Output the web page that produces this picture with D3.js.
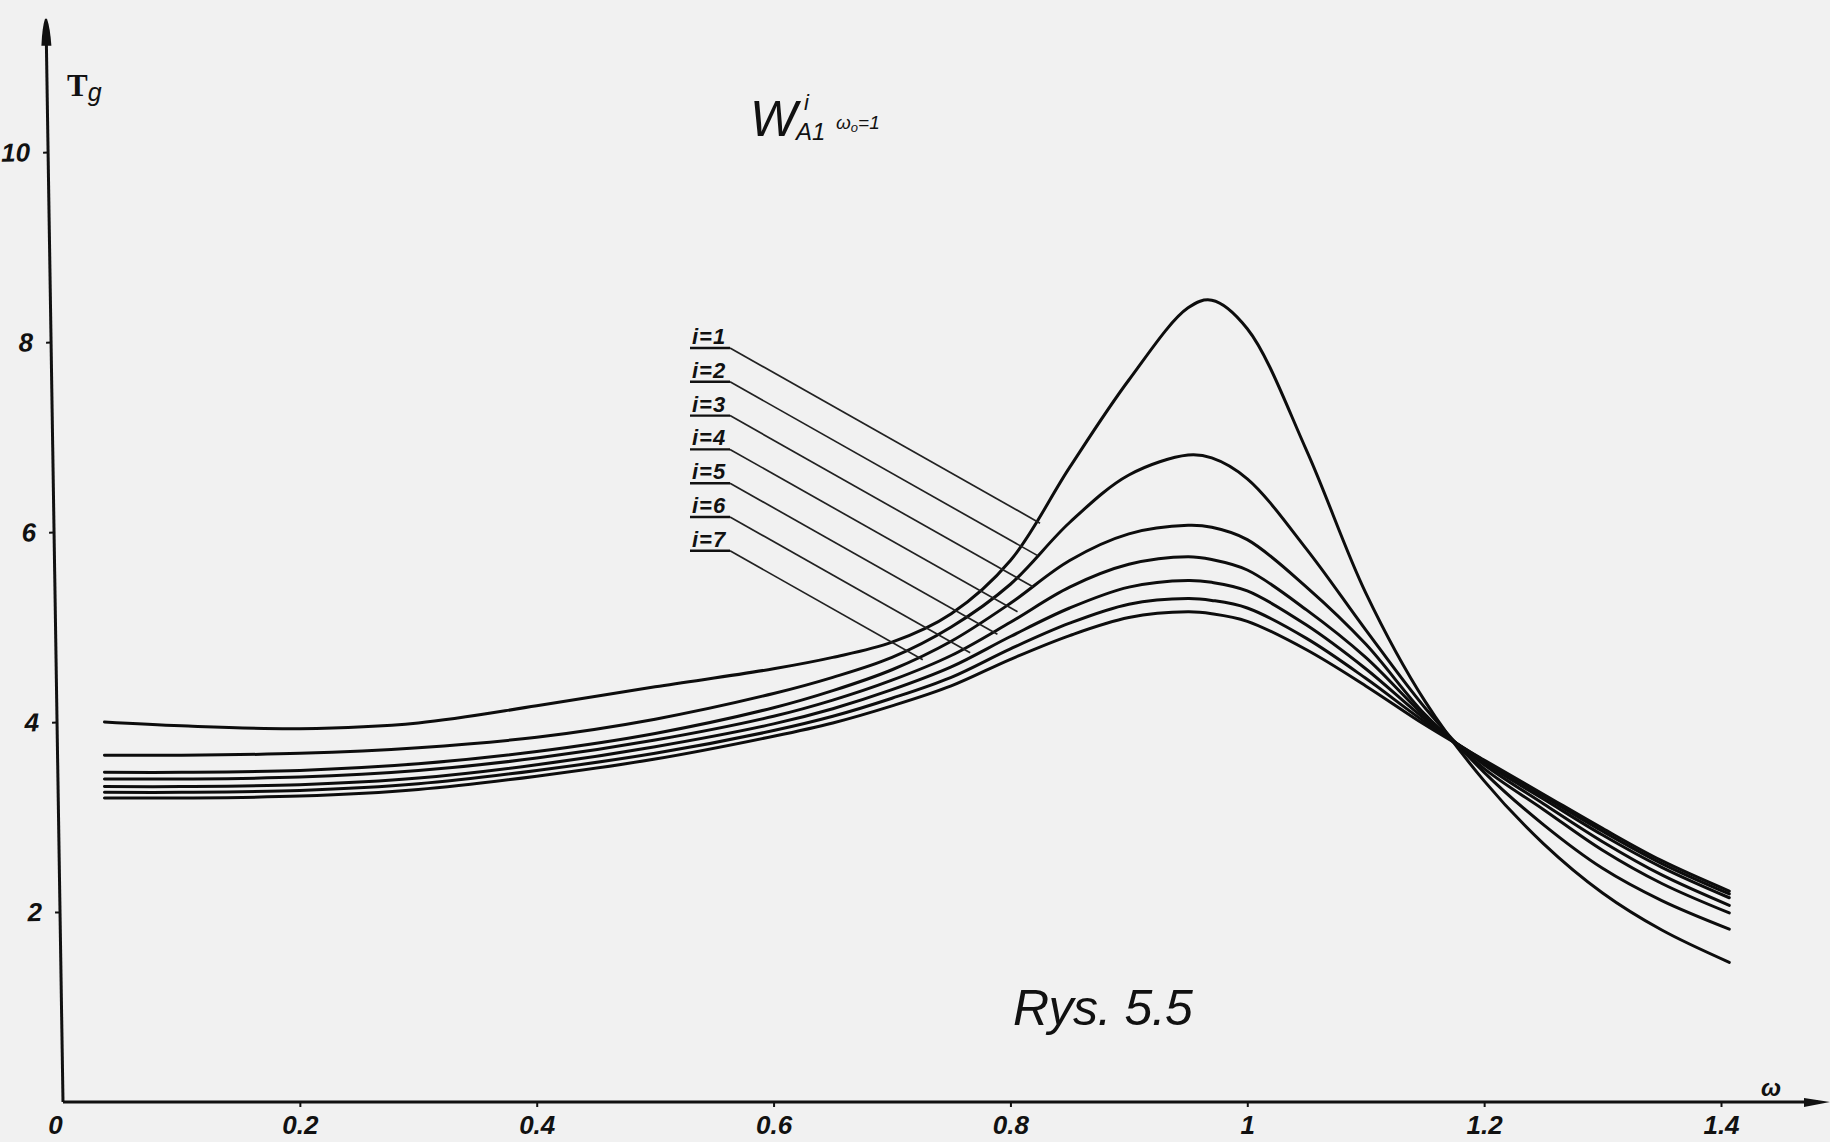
<!DOCTYPE html>
<html lang="pl">
<head>
<meta charset="UTF-8">
<title>Rys. 5.5</title>
<script src="https://d3js.org/d3.v7.min.js"></script>
<style>
  body { margin: 0; background: #f1f1f1; }
  svg { display: block; }
  text { fill: #111; font-family: "Liberation Sans", Arial, sans-serif; font-style: italic; }
</style>
</head>
<body>
<script>

const omega = [0.035, 0.1, 0.2, 0.3, 0.4, 0.5, 0.6, 0.65, 0.7, 0.75, 0.8, 0.85, 0.9, 0.95, 0.97, 1.0, 1.05, 1.1, 1.15, 1.2, 1.25, 1.3, 1.35, 1.407];

const curve1 = [4.00, 3.96, 3.93, 3.99, 4.17, 4.37, 4.56, 4.68, 4.84, 5.14, 5.70, 6.68, 7.60, 8.36, 8.44, 8.14, 6.86, 5.36, 4.22, 3.38, 2.72, 2.20, 1.81, 1.47];
const curve2 = [3.65, 3.65, 3.67, 3.73, 3.84, 4.03, 4.30, 4.47, 4.68, 5.00, 5.45, 6.10, 6.60, 6.81, 6.78, 6.56, 5.82, 4.97, 4.15, 3.47, 2.92, 2.46, 2.12, 1.82];
const curve3 = [3.47, 3.47, 3.49, 3.56, 3.69, 3.88, 4.15, 4.33, 4.55, 4.85, 5.25, 5.70, 5.98, 6.07, 6.05, 5.92, 5.42, 4.82, 4.08, 3.51, 3.08, 2.65, 2.30, 1.99];
const curve4 = [3.40, 3.40, 3.42, 3.49, 3.62, 3.81, 4.06, 4.23, 4.44, 4.70, 5.05, 5.42, 5.66, 5.74, 5.71, 5.60, 5.18, 4.68, 4.06, 3.55, 3.14, 2.74, 2.39, 2.07];
const curve5 = [3.32, 3.32, 3.34, 3.41, 3.55, 3.74, 3.98, 4.14, 4.34, 4.58, 4.90, 5.20, 5.42, 5.49, 5.47, 5.38, 5.02, 4.56, 4.03, 3.57, 3.19, 2.81, 2.47, 2.15];
const curve6 = [3.26, 3.26, 3.28, 3.35, 3.49, 3.67, 3.91, 4.06, 4.25, 4.47, 4.77, 5.04, 5.24, 5.30, 5.28, 5.20, 4.88, 4.46, 4.00, 3.59, 3.22, 2.85, 2.51, 2.19];
const curve7 = [3.20, 3.20, 3.22, 3.29, 3.43, 3.61, 3.85, 3.99, 4.17, 4.38, 4.66, 4.91, 5.10, 5.16, 5.14, 5.06, 4.76, 4.38, 3.97, 3.60, 3.24, 2.88, 2.54, 2.22];

const series = [curve1, curve2, curve3, curve4, curve5, curve6, curve7];
const seriesNames = ["i=1", "i=2", "i=3", "i=4", "i=5", "i=6", "i=7"];
// omega where each label's leader line stops
const leaderEndOmega = [0.825, 0.823, 0.819, 0.806, 0.789, 0.766, 0.726];

const xTicks = [0, 0.2, 0.4, 0.6, 0.8, 1, 1.2, 1.4];
const yTicks = [2, 4, 6, 8, 10];

const w = 1830;
const h = 1142;
const tickFont = "'Liberation Sans Narrow', 'Liberation Sans', Arial, sans-serif";

const xScale = d3.scaleLinear()
                 .domain([0, 1.4])
                 .range([63, 1721]);

const yScale = d3.scaleLinear()
                 .domain([0, 10])
                 .range([1102, 152]);

const svg = d3.select("body")
              .append("svg")
              .attr("width", w)
              .attr("height", h);

svg.append("rect")
   .attr("width", w)
   .attr("height", h)
   .attr("fill", "#f1f1f1");

// x axis
const xAxis = d3.axisBottom(xScale)
                .tickValues(xTicks)
                .tickSize(5)
                .tickPadding(9)
                .tickFormat(d => String(d));

const gx = svg.append("g")
              .attr("transform", "translate(0," + yScale(0) + ")")
              .call(xAxis);
gx.select(".domain").remove();
gx.selectAll(".tick line").attr("stroke", "#111").attr("stroke-width", 2);
gx.selectAll(".tick text")
  .attr("font-size", 26)
  .attr("font-family", tickFont)
  .attr("font-weight", "bold")
  .style("font-style", "italic")
  .attr("fill", "#111");
gx.selectAll(".tick").filter(d => d === 0).select("text").attr("dx", -8);
gx.selectAll(".tick").filter(d => d === 0).select("line").remove();

gx.append("line")
  .attr("x1", xScale(0))
  .attr("x2", 1818)
  .attr("stroke", "#111")
  .attr("stroke-width", 3);
gx.append("path")
  .attr("d", "M1804,-4 L1830,0 L1804,5 Z")
  .attr("fill", "#111");
gx.append("text")
  .attr("x", 1771)
  .attr("y", -6)
  .attr("font-size", 24)
  .attr("font-weight", "bold")
  .text("ω");

// y axis, leaning slightly like the scanned original
const yAxis = d3.axisLeft(yScale)
                .tickValues(yTicks)
                .tickSize(5)
                .tickPadding(13);

const gy = svg.append("g")
              .attr("transform", "rotate(-0.9," + xScale(0) + "," + yScale(0) + ") translate(" + xScale(0) + ",0)")
              .call(yAxis);
gy.select(".domain").remove();
gy.selectAll(".tick line").attr("stroke", "#111").attr("stroke-width", 2);
gy.selectAll(".tick text")
  .attr("font-size", 26)
  .attr("font-family", tickFont)
  .attr("font-weight", "bold")
  .style("font-style", "italic")
  .attr("fill", "#111");

gy.append("line")
  .attr("y1", yScale(0))
  .attr("y2", yScale(11.2))
  .attr("stroke", "#111")
  .attr("stroke-width", 3);
gy.append("path")
  .attr("d", "M-5," + yScale(11.12) + " Q-4," + (yScale(11.12) - 18) + " -1," + (yScale(11.12) - 27) +
             " L1," + (yScale(11.12) - 27) + " Q4," + (yScale(11.12) - 18) + " 5," + yScale(11.12) + " Z")
  .attr("fill", "#111");

// curves
const line = d3.line()
               .x(d => xScale(d[0]))
               .y(d => yScale(d[1]))
               .curve(d3.curveCatmullRom.alpha(0.5));

svg.selectAll("path.curve")
   .data(series)
   .enter()
   .append("path")
   .attr("class", "curve")
   .attr("d", d => line(d.map((v, k) => [omega[k], v])))
   .attr("fill", "none")
   .attr("stroke", "#0d0d0d")
   .attr("stroke-width", 3)
   .attr("stroke-linejoin", "round")
   .attr("stroke-linecap", "round");

// labels i=1..7 with parallel leader lines
const labelX = 690;
const labelUnderlineEnd = 730;
const labelY0 = 348;
const labelStep = 33.8;
const leaderSlope = 0.565;

seriesNames.forEach((name, i) => {
  const yL = labelY0 + i * labelStep;
  const xEnd = xScale(leaderEndOmega[i]);
  svg.append("text")
     .attr("x", labelX + 2)
     .attr("y", yL - 4)
     .attr("font-size", 22)
     .attr("font-family", tickFont)
     .attr("font-weight", "bold")
     .attr("letter-spacing", 1)
     .text(name);
  svg.append("line")
     .attr("x1", labelX)
     .attr("x2", labelUnderlineEnd)
     .attr("y1", yL)
     .attr("y2", yL)
     .attr("stroke", "#111")
     .attr("stroke-width", 2.4);
  svg.append("line")
     .attr("x1", labelUnderlineEnd)
     .attr("y1", yL)
     .attr("x2", xEnd)
     .attr("y2", yL + leaderSlope * (xEnd - labelUnderlineEnd))
     .attr("stroke", "#222")
     .attr("stroke-width", 1.7);
});

// Tg label
const tg = svg.append("text")
              .attr("x", 67)
              .attr("y", 96);
tg.append("tspan")
  .attr("font-family", "Liberation Serif, serif")
  .style("font-style", "normal")
  .attr("font-weight", "bold")
  .attr("font-size", 31)
  .text("T");
tg.append("tspan")
  .attr("font-size", 25)
  .attr("dy", 5)
  .text("g");

// title W^i_A1 ω0=1
svg.append("text")
   .attr("x", 750)
   .attr("y", 136)
   .attr("font-size", 50)
   .text("W");
svg.append("text")
   .attr("x", 804)
   .attr("y", 110)
   .attr("font-size", 22)
   .text("i");
svg.append("text")
   .attr("x", 796)
   .attr("y", 140)
   .attr("font-size", 24)
   .text("A1");
const sub = svg.append("text")
               .attr("x", 836)
               .attr("y", 129)
               .attr("font-size", 19);
sub.append("tspan").text("ω");
sub.append("tspan").attr("font-size", 13).attr("dy", 3).text("o");
sub.append("tspan").attr("dy", -3).text("=1");

// figure caption
svg.append("text")
   .attr("x", 1013)
   .attr("y", 1025)
   .attr("font-size", 50)
   .attr("letter-spacing", -0.5)
   .text("Rys. 5.5");

</script>
</body>
</html>
